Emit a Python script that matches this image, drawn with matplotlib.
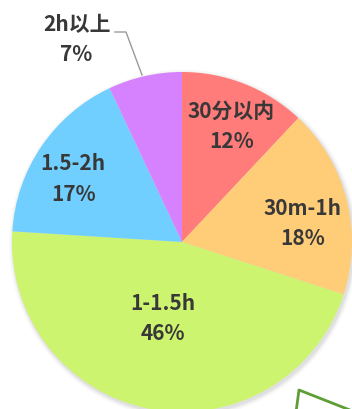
#!/usr/bin/env python3
"""Pie chart: daily time spent, share of respondents."""

import matplotlib.pyplot as plt
from matplotlib.patches import Circle

plt.rcParams['font.family'] = ['Noto Sans CJK SC', 'DejaVu Sans']

categories = ["30分以内", "30m-1h", "1-1.5h", "1.5-2h", "2h以上"]
shares = [12, 18, 46, 17, 7]
colors = ["#FF7C7A", "#FFCC78", "#CDF46E", "#70CFFF", "#D682FF"]

# label centres in pie units (radius = 1)
label_pos = [(0.29, 0.68), (0.71, 0.11), (-0.11, -0.45), (-0.64, 0.37), (-0.62, 1.19)]
text_color = "#383838"

W, H = 352, 409
fig = plt.figure(figsize=(W / 100, H / 100), dpi=100)
ax = fig.add_axes([0, 0, 1, 1])

# pie centre sits at pixel (182, 242) with radius 170
R, cx, cy = 170.0, 182.0, 242.0

# soft drop shadow under the pie
for rad, a in [(1.025, 0.05), (1.015, 0.08), (1.006, 0.12)]:
    ax.add_patch(Circle((0.008, -0.012), rad, color="#808080", alpha=a, lw=0, zorder=0))

ax.pie(shares, colors=colors, startangle=90, counterclock=False, radius=1.0,
       wedgeprops=dict(linewidth=0), center=(0, 0), frame=True)
ax.set_xlim(-cx / R, (W - cx) / R)
ax.set_ylim(-(H - cy) / R, cy / R)
ax.set_aspect("equal")
ax.axis("off")

for cat, val, (x, y) in zip(categories, shares, label_pos):
    ax.text(x, y, f"{cat}\n{val}%", ha="center", va="center", fontsize=15,
            fontweight="bold", color=text_color, linespacing=1.55, zorder=5)

# leader line for the small slice
def px(x, y):
    return ((x - cx) / R, (cy - y) / R)

lx, ly = zip(px(115, 32), px(126, 32), px(142, 75))
ax.plot(lx, ly, color="#9A9A9A", lw=1.0, zorder=4)

# green outline peeking in from the corner
gx, gy = zip(px(296, 412), px(299, 390), px(355, 412))
ax.plot(gx, gy, color="#5E9E34", lw=2.0, zorder=4, clip_on=True)

fig.savefig("out.png", dpi=100)
